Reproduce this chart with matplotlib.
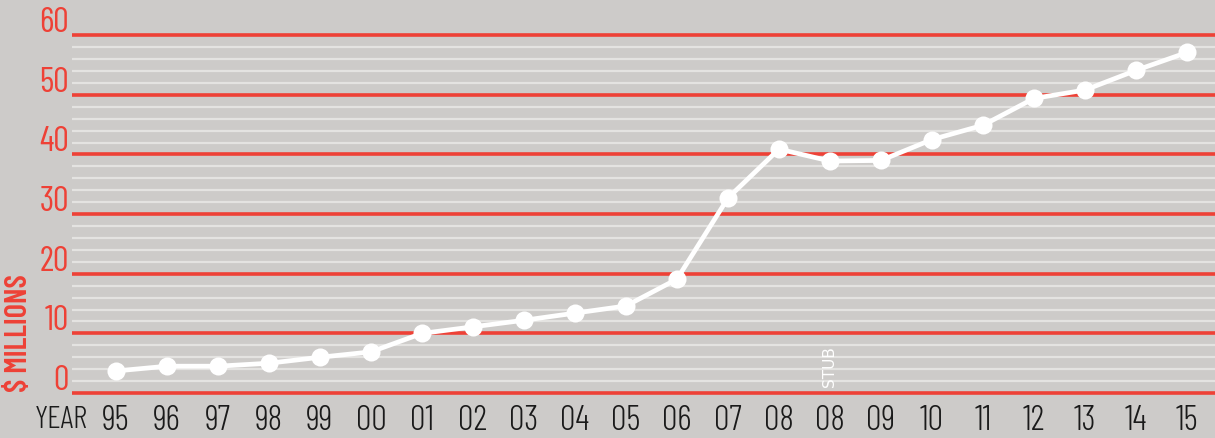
import matplotlib
matplotlib.use("Agg")
import matplotlib.pyplot as plt
from matplotlib import font_manager

BG = "#cdcbc9"
RED = "#ee4136"
MINOR = "#e4e3e1"

years = ["95", "96", "97", "98", "99", "00", "01", "02", "03", "04", "05",
         "06", "07", "08", "08", "09", "10", "11", "12", "13", "14", "15"]
values = [3.7, 4.5, 4.5, 5.0, 6.0, 6.9, 10.0, 11.1, 12.2, 13.4, 14.6,
          19.1, 32.7, 40.9, 38.9, 39.0, 42.5, 44.9, 49.4, 50.8, 54.1, 57.1]
stub_index = 14
major_ticks = [0, 10, 20, 30, 40, 50, 60]
minor_ticks = [v for v in range(0, 61, 2) if v % 10 != 0]

# pick a condensed face if one is around
names = {f.name for f in font_manager.fontManager.ttflist}
narrow = "DejaVu Sans"
for cand in ["Barlow Condensed", "Roboto Condensed", "Oswald", "Antonio",
             "Pathway Gothic One", "Liberation Sans Narrow"]:
    if cand in names:
        narrow = cand
        break

fig = plt.figure(figsize=(12.15, 4.38), dpi=100)
fig.patch.set_facecolor(BG)
ax = fig.add_axes([72 / 1215, (438 - 395) / 438, 1 - 72 / 1215, 395 / 438])
ax.set_facecolor(BG)
for s in ax.spines.values():
    s.set_visible(False)

x = list(range(len(years)))
ax.set_xlim(-0.863, 21.55)
ax.set_ylim(-0.33, 65.9)

for v in minor_ticks:
    ax.axhline(v, color=MINOR, lw=1.6, zorder=1)
for v in major_ticks:
    ax.axhline(v, color=RED, lw=2.6, zorder=2)

ax.plot(x, values, color="white", lw=3.4, marker="o", ms=13,
        markeredgewidth=0, zorder=4, solid_joinstyle="round")

ax.set_xticks(x)
ax.set_xticklabels(years)
ax.set_yticks([])
ax.tick_params(axis="x", length=0, pad=7, labelsize=25, labelcolor="#1a1a1a")
for t in ax.get_xticklabels():
    t.set_fontfamily(narrow)
    t.set_fontweight(300)

# y labels sit on each red line
for v in major_ticks:
    ax.text(-0.92, v + 0.5, str(v), color=RED, fontsize=25, family=narrow,
            fontweight=400, ha="right", va="baseline", clip_on=False)

fig.text(19 / 1215, 1 - 333 / 438, "$ MILLIONS", color=RED, fontsize=22,
         fontweight=600, family=narrow, rotation=90, ha="center", va="center")
fig.text(88 / 1215, 1 - 420 / 438, "YEAR", color="#1a1a1a", fontsize=23,
         family=narrow, fontweight=300, ha="right", va="center")

ax.text(stub_index, 1.0, "STUB", color="white", fontsize=11, family="DejaVu Sans",
        rotation=90, ha="center", va="bottom", zorder=5)

fig.savefig("out.png", dpi=100, facecolor=BG)
